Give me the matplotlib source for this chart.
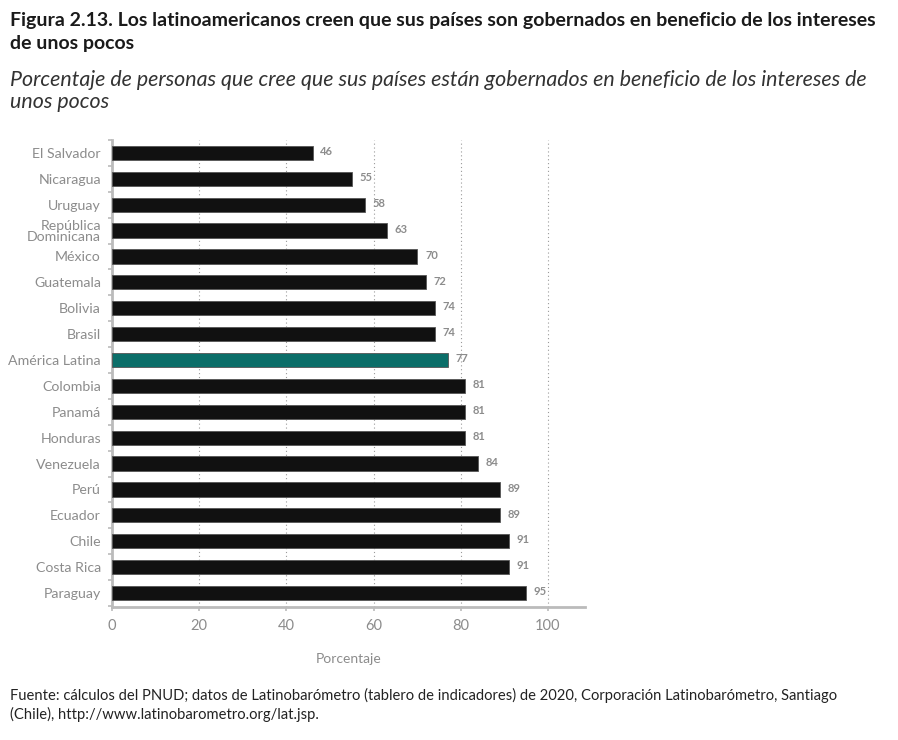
import matplotlib.pyplot as plt
import numpy as np

plt.rcParams['font.family'] = ['Lato', 'DejaVu Sans']

countries = ["El Salvador", "Nicaragua", "Uruguay", "República\nDominicana", "México",
             "Guatemala", "Bolivia", "Brasil", "América Latina", "Colombia", "Panamá",
             "Honduras", "Venezuela", "Perú", "Ecuador", "Chile", "Costa Rica", "Paraguay"]
values = [46, 55, 58, 63, 70, 72, 74, 74, 77, 81, 81, 81, 84, 89, 89, 91, 91, 95]
xticks = [0, 20, 40, 60, 80, 100]

GRAY = '#8c8c8c'
TEAL = '#0b6e69'

fig = plt.figure(figsize=(8.98, 7.40), dpi=100)
ax = fig.add_axes([112 / 898, 1 - 607 / 740, (585 - 112) / 898, (607 - 140) / 740])

y = np.arange(len(countries))
colors = [TEAL if c == "América Latina" else '#111111' for c in countries]
ax.barh(y, values, height=0.55, color=colors, edgecolor='#555555', linewidth=0.6, zorder=3)

for yi, v in zip(y, values):
    ax.text(v + 1.8, yi - 0.05, str(v), va='center', ha='left', fontsize=8,
            color=GRAY, fontweight='bold', zorder=4)

ax.set_xlim(0, 108.5)
ax.set_ylim(len(countries) - 0.46, -0.5)
ax.set_yticks(y)
ax.set_yticklabels(countries, fontsize=10.2, color=GRAY, linespacing=0.95)
ax.set_yticks(np.arange(-0.5, len(countries), 1), minor=True)
ax.tick_params(axis='y', which='major', length=0, pad=8)
ax.tick_params(axis='y', which='minor', length=3, color='#bbbbbb', width=1.2)
ax.set_xticks(xticks)
ax.set_xticklabels([str(t) for t in xticks], fontsize=10.5, color=GRAY)
ax.tick_params(axis='x', length=3, color='#bbbbbb', width=1.2, pad=6)

for t in xticks[1:]:
    ax.axvline(t, color='#9a9a9a', linestyle=(0, (1, 2.5)), linewidth=0.8, zorder=1)

for s in ['top', 'right']:
    ax.spines[s].set_visible(False)
for s in ['left', 'bottom']:
    ax.spines[s].set_color('#bbbbbb')
    ax.spines[s].set_linewidth(2)

ax.set_xlabel("Porcentaje", fontsize=10, color=GRAY, labelpad=14)

fig.text(10 / 898, 1 - 32 / 740,
         "Figura 2.13. Los latinoamericanos creen que sus países son gobernados en beneficio de los intereses\nde unos pocos",
         fontsize=14, fontweight='bold', color='#1a1a1a', va='center', ha='left', linespacing=1.45)
fig.text(10 / 898, 1 - 91 / 740,
         "Porcentaje de personas que cree que sus países están gobernados en beneficio de los intereses de\nunos pocos",
         fontsize=15.4, fontstyle='italic', color='#333333', va='center', ha='left', linespacing=1.1)
fig.text(10 / 898, 1 - 705 / 740,
         "Fuente: cálculos del PNUD; datos de Latinobarómetro (tablero de indicadores) de 2020, Corporación Latinobarómetro, Santiago\n(Chile), http://www.latinobarometro.org/lat.jsp.",
         fontsize=10.6, color='#222222', va='center', ha='left', linespacing=1.3)

fig.savefig("out.png", dpi=100, facecolor='white')
